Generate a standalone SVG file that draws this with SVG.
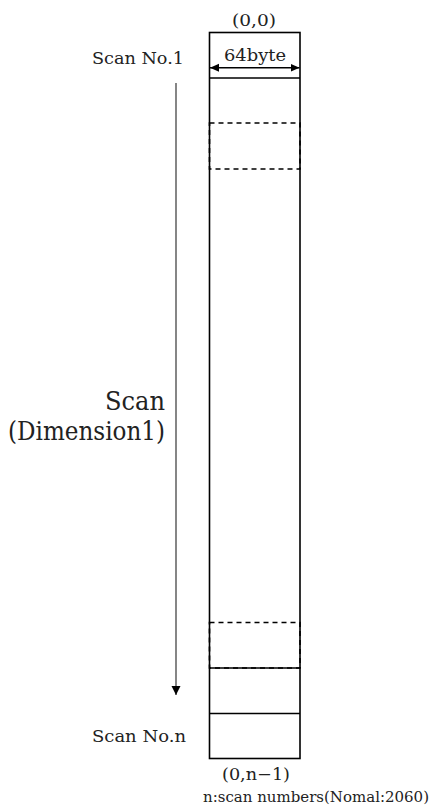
<svg xmlns="http://www.w3.org/2000/svg" width="433" height="811" viewBox="0 0 433 811">
<style>
text{font-family:'DejaVu Serif','Liberation Serif',serif;fill:#222}
.s{stroke:#000;stroke-width:1.6;fill:none}
.d{stroke:#000;stroke-width:1.6;fill:none;stroke-dasharray:5,4}
</style>
<defs>
<marker id="ah" markerWidth="10" markerHeight="10" refX="9" refY="5" orient="auto" markerUnits="userSpaceOnUse">
<path d="M0,0.5 L9,5 L0,9.5 Z" fill="#000"/>
</marker>
<marker id="ah2" markerWidth="10" markerHeight="10" refX="9" refY="5" orient="auto-start-reverse" markerUnits="userSpaceOnUse">
<path d="M0,1 L9,5 L0,9 Z" fill="#000"/>
</marker>
</defs>
<rect width="433" height="811" fill="#fff"/>
<g id="array">
<rect class="s" x="209.5" y="32.5" width="90.5" height="726"/>
<line class="s" x1="209.5" y1="78" x2="300" y2="78"/>
<line class="s" x1="209.5" y1="668" x2="300" y2="668"/>
<line class="s" x1="209.5" y1="713.5" x2="300" y2="713.5"/>
</g>
<g id="dashed-top">
<rect class="d" x="209.5" y="123" width="90.5" height="46"/>
</g>
<g id="dashed-bottom">
<rect class="d" x="209.5" y="622.5" width="90.5" height="45.5"/>
</g>
<g id="labels">
<text x="254" y="26" font-size="17" text-anchor="middle" textLength="44" lengthAdjust="spacingAndGlyphs">(0,0)</text>
<text x="255" y="60.5" font-size="17" text-anchor="middle" textLength="62" lengthAdjust="spacingAndGlyphs">64byte</text>
<text x="92" y="64" font-size="17" textLength="92" lengthAdjust="spacingAndGlyphs">Scan No.1</text>
<text x="165" y="410" font-size="26" text-anchor="end" textLength="60" lengthAdjust="spacingAndGlyphs">Scan</text>
<text x="8" y="440" font-size="26" textLength="157" lengthAdjust="spacingAndGlyphs">(Dimension1)</text>
<text x="92" y="742" font-size="17" textLength="94" lengthAdjust="spacingAndGlyphs">Scan No.n</text>
<text x="222" y="780" font-size="17" textLength="68" lengthAdjust="spacingAndGlyphs">(0,n−1)</text>
<text x="203" y="801.5" font-size="15" textLength="226" lengthAdjust="spacingAndGlyphs">n:scan numbers(Nomal:2060)</text>
</g>
<g id="connectors">
<line x1="210" y1="67.7" x2="299.5" y2="67.7" stroke="#000" stroke-width="1.6" marker-start="url(#ah2)" marker-end="url(#ah2)"/>
<line x1="176" y1="83" x2="176" y2="695" stroke="#444" stroke-width="1.3" marker-end="url(#ah)"/>
</g>
</svg>
